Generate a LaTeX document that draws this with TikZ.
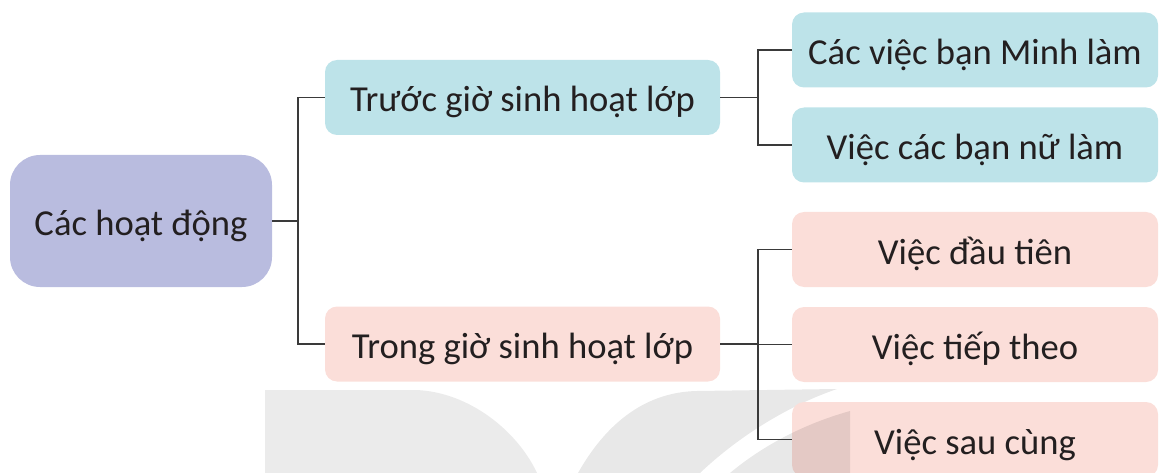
\documentclass[tikz,border=0pt]{standalone}
\usepackage{fontspec}
\setmainfont{Carlito}
\definecolor{rootc}{HTML}{B9BCDF}
\definecolor{cyanc}{HTML}{BDE3E9}
\definecolor{pinkc}{HTML}{FBDED9}
\definecolor{linec}{HTML}{3A3A3A}
\definecolor{txtc}{HTML}{231F20}
\definecolor{wmc}{HTML}{E8E8E8}
\definecolor{wmd}{HTML}{EBEBEB}
\begin{document}
\begin{tikzpicture}[x=1pt,y=-1pt,
  basebox/.style={rectangle, inner sep=0pt, text=txtc,
    font=\fontsize{36.6}{40}\selectfont, text height=29pt, text depth=0pt},
  rootbox/.style={basebox, fill=rootc, rounded corners=30pt,
    minimum width=262pt, minimum height=132pt},
  midcyan/.style={basebox, fill=cyanc, rounded corners=12pt,
    minimum width=395pt, minimum height=75pt},
  midpink/.style={basebox, fill=pinkc, rounded corners=12pt,
    minimum width=395pt, minimum height=75pt},
  leafcyan/.style={basebox, fill=cyanc, rounded corners=12pt,
    minimum width=366pt, minimum height=75pt},
  leafpink/.style={basebox, fill=pinkc, rounded corners=12pt,
    minimum width=366pt, minimum height=75pt},
  link/.style={draw=linec, line width=1.3pt}]
\useasboundingbox (0,0) rectangle (1159,473);
\clip (0,0) rectangle (1159,473);
% faint watermark
\fill[wmd] (265,390) -- (416,390) .. controls (470,392) and (518,432) .. (537,473) -- (265,473) -- cycle;
\fill[wmc] (578,473) .. controls (608,420) and (648,392) .. (697,391) -- (837,389)
  .. controls (790,405) and (740,435) .. (700,473) -- cycle;
% nodes
\node[rootbox] (root) at (141,221) {Các hoạt động};
\node[midcyan] (mid1) at (522.5,97.5) {Trước giờ sinh hoạt lớp};
\node[midpink] (mid2) at (522.5,344) {Trong giờ sinh hoạt lớp};
\node[leafcyan] (leaf1) at (975,50) {Các việc bạn Minh làm};
\node[leafcyan] (leaf2) at (975,145) {Việc các bạn nữ làm};
\node[leafpink] (leaf3) at (975,249.5) {Việc đầu tiên};
\node[leafpink] (leaf4) at (975,344.5) {Việc tiếp theo};
\node[leafpink] (leaf5) at (975,439.5) {Việc sau cùng};
\fill[black, opacity=0.09] (730,473) .. controls (760,448) and (800,425) .. (850,411) -- (850,473) -- cycle;
% connectors
\coordinate (j1) at (298,221);
\coordinate (j2) at (758,97.5);
\coordinate (j3) at (758,344);
\draw[link] (root.east) -- (j1);
\draw[link] (mid1.west) -| (j1);
\draw[link] (mid2.west) -| (j1);
\draw[link] (mid1.east) -- (j2);
\draw[link] (leaf1.west) -| (j2);
\draw[link] (leaf2.west) -| (j2);
\draw[link] (mid2.east) -- (j3);
\draw[link] (leaf3.west) -| (j3);
\draw[link] (leaf4.west) -| (j3);
\draw[link] (leaf5.west) -| (j3);
\end{tikzpicture}
\end{document}
